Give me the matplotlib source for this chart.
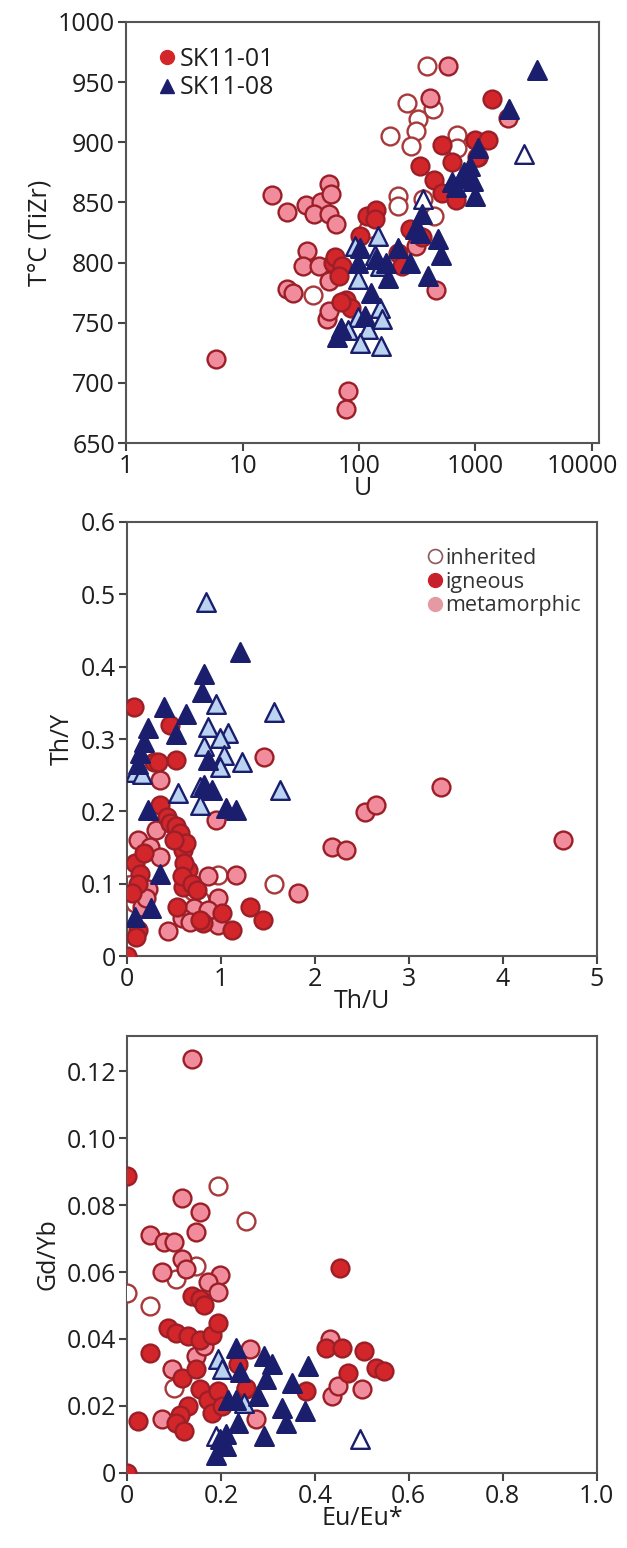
import matplotlib
matplotlib.use("Agg")
import matplotlib.pyplot as plt
from matplotlib.lines import Line2D
from matplotlib.transforms import ScaledTranslation
import numpy as np

plt.rcParams['font.family'] = ['Open Sans', 'DejaVu Sans']

# ---------------- Panel 1: U vs T (TiZr) ----------------
p1_sk01_met_U = [5.9, 18, 24, 35, 47, 55, 57, 41, 55, 63, 36, 33, 45, 24, 27, 55, 53, 55, 81, 78,
                 459, 1900, 1050, 408, 582, 310]
p1_sk01_met_T = [720, 856, 842, 848, 850, 865, 857, 840, 840, 832, 810, 797, 797, 778, 775, 785, 753, 760, 693, 678,
                 777, 920, 888, 937, 963, 814]
p1_sk01_ign_U = [1380, 520, 336, 630, 1000, 1270, 1040, 440, 520, 680, 103, 116, 141, 137, 60, 62, 72, 67, 78, 85,
                 70, 218, 275, 350, 235]
p1_sk01_ign_T = [936, 898, 880, 884, 902, 902, 888, 869, 858, 852, 822, 839, 844, 836, 800, 805, 797, 789, 769, 762,
                 767, 808, 828, 821, 797]
p1_sk01_inh_U = [384, 259, 430, 323, 310, 185, 281, 690, 217, 217, 355, 440, 40, 120, 700]
p1_sk01_inh_T = [963, 933, 928, 919, 909, 905, 897, 906, 855, 847, 853, 839, 773, 828, 895]
p1_sk08_ign_U = [3400, 1935, 1050, 800, 900, 750, 1000, 680, 350, 335, 480, 510, 395, 274, 300, 218, 172, 178, 141, 99,
                 103, 126, 112, 70, 65, 630, 950]
p1_sk08_ign_T = [960, 928, 895, 875, 880, 870, 855, 863, 840, 825, 820, 806, 789, 800, 828, 812, 800, 787, 803, 800,
                 812, 775, 756, 746, 738, 867, 868]
p1_sk08_met_U = [147, 92, 136, 150, 99, 150, 158, 99, 120, 103, 153, 81]
p1_sk08_met_T = [822, 814, 806, 797, 786, 762, 753, 755, 745, 733, 731, 744]
p1_sk08_inh_U = [2590, 355]
p1_sk08_inh_T = [890, 853]

# ---------------- Panel 2: Th/U vs Th/Y ----------------
p2_sk01_ign_x = [0.07, 0.46, 0.52, 0.29, 0.33, 0.35, 0.43, 0.46, 0.52, 0.565, 0.6, 0.63, 0.65, 0.6, 0.61, 0.58, 0.69,
                 0.74, 0.53, 0.81, 1.01, 1.12, 1.31, 1.45, 0.12, 0.09, 0.14, 0.18, 0.12, 0.05, 0.0, 0.78, 0.1, 0.5]
p2_sk01_ign_y = [0.344, 0.319, 0.271, 0.268, 0.268, 0.209, 0.192, 0.184, 0.18, 0.17, 0.147, 0.156, 0.119, 0.095, 0.128,
                 0.11, 0.1, 0.091, 0.068, 0.046, 0.059, 0.036, 0.068, 0.05, 0.036, 0.128, 0.114, 0.142, 0.1, 0.087,
                 0.0, 0.05, 0.026, 0.16]
p2_sk01_met_x = [1.46, 0.95, 3.34, 2.53, 2.65, 2.18, 2.33, 4.64, 1.82, 1.16, 0.86, 0.97, 0.71, 0.58, 0.97, 0.44, 0.12,
                 0.31, 0.35, 0.24, 0.35, 0.22, 0.16, 0.86, 0.67, 0.2]
p2_sk01_met_y = [0.275, 0.188, 0.234, 0.199, 0.209, 0.151, 0.146, 0.16, 0.087, 0.112, 0.11, 0.08, 0.066, 0.052, 0.043,
                 0.034, 0.16, 0.174, 0.243, 0.151, 0.137, 0.093, 0.068, 0.063, 0.047, 0.08]
p2_sk01_inh_x = [1.57, 0.97, 0.01, 0.78, 0.09, 0.7]
p2_sk01_inh_y = [0.1, 0.112, 0.123, 0.077, 0.073, 0.09]
p2_sk08_ign_x = [1.2, 0.82, 0.8, 0.39, 0.63, 0.22, 0.18, 0.52, 0.12, 0.14, 0.86, 0.82, 0.9, 0.22, 1.05, 1.16, 0.35,
                 0.26, 0.09]
p2_sk08_ign_y = [0.42, 0.39, 0.365, 0.344, 0.335, 0.315, 0.296, 0.307, 0.266, 0.28, 0.271, 0.236, 0.229, 0.202, 0.204,
                 0.202, 0.114, 0.066, 0.054]
p2_sk08_met_x = [0.84, 0.95, 1.57, 0.86, 1.07, 0.99, 0.82, 1.03, 1.22, 0.99, 1.63, 0.54, 0.78, 0.78, 0.09, 0.16]
p2_sk08_met_y = [0.489, 0.349, 0.337, 0.317, 0.308, 0.301, 0.291, 0.278, 0.268, 0.262, 0.229, 0.225, 0.234, 0.209,
                 0.255, 0.252]

# ---------------- Panel 3: Eu/Eu* vs Gd/Yb ----------------
p3_sk01_met_x = [0.138, 0.117, 0.155, 0.147, 0.049, 0.079, 0.1, 0.074, 0.117, 0.125, 0.198, 0.172, 0.194, 0.262,
                 0.253, 0.275, 0.074, 0.096, 0.147, 0.437, 0.45, 0.433, 0.501, 0.164]
p3_sk01_met_y = [0.1235, 0.082, 0.078, 0.072, 0.071, 0.069, 0.069, 0.06, 0.064, 0.061, 0.059, 0.057, 0.054, 0.037,
                 0.025, 0.016, 0.016, 0.031, 0.035, 0.023, 0.026, 0.04, 0.025, 0.038]
p3_sk01_ign_x = [0.0, 0.454, 0.0, 0.023, 0.049, 0.087, 0.104, 0.13, 0.155, 0.181, 0.194, 0.138, 0.155, 0.164, 0.117,
                 0.147, 0.236, 0.253, 0.155, 0.172, 0.13, 0.113, 0.104, 0.121, 0.181, 0.194, 0.202, 0.424, 0.458,
                 0.505, 0.471, 0.531, 0.548, 0.381]
p3_sk01_ign_y = [0.0886, 0.0612, 0.0, 0.0154, 0.0358, 0.0433, 0.0418, 0.0408, 0.0398, 0.0413, 0.0448, 0.0528, 0.0518,
                 0.05, 0.0284, 0.031, 0.0324, 0.0254, 0.025, 0.0219, 0.0199, 0.0174, 0.0149, 0.0124, 0.0179, 0.0244,
                 0.02, 0.0373, 0.0373, 0.0363, 0.0299, 0.0314, 0.0304, 0.0244]
p3_sk01_inh_x = [0.0, 0.049, 0.194, 0.253, 0.147, 0.104, 0.1]
p3_sk01_inh_y = [0.0538, 0.0498, 0.0856, 0.0752, 0.0617, 0.0578, 0.0254]
p3_sk08_ign_x = [0.232, 0.309, 0.292, 0.386, 0.352, 0.296, 0.279, 0.232, 0.215, 0.33, 0.379, 0.338, 0.236, 0.292,
                 0.211, 0.211, 0.189, 0.198, 0.241]
p3_sk08_ign_y = [0.0373, 0.0324, 0.0349, 0.0319, 0.0269, 0.0279, 0.0229, 0.0219, 0.0219, 0.0194, 0.0184, 0.0149,
                 0.0149, 0.011, 0.0115, 0.008, 0.0055, 0.01, 0.03]
p3_sk08_met_x = [0.194, 0.202, 0.249]
p3_sk08_met_y = [0.0339, 0.0309, 0.0209]
p3_sk08_inh_x = [0.497, 0.189]
p3_sk08_inh_y = [0.01, 0.011]

# ---------------- styles ----------------
RED = '#d3262b'
RED_EDGE = '#9c1f27'
PINK = '#f08c9c'
INH_EDGE = '#a8383a'
NAVY = '#1b1e6c'
LBLUE = '#b9d3f0'

CS = 165   # circle marker area
TS = 180   # triangle marker area
LW = 1.7

fig = plt.figure(figsize=(6.27, 15.48), dpi=100)
ax1 = fig.add_axes([0.2010, 0.7138, 0.7544, 0.2720])
ax2 = fig.add_axes([0.2026, 0.3824, 0.749, 0.2804])
ax3 = fig.add_axes([0.2026, 0.0485, 0.749, 0.2823])


def draw(ax, inh, met, ign, tinh, tmet, tign):
    ax.scatter(*inh, s=CS, marker='o', facecolor='white', edgecolor=INH_EDGE, linewidth=LW, zorder=3)
    ax.scatter(*met, s=CS, marker='o', facecolor=PINK, edgecolor=RED_EDGE, linewidth=LW, zorder=3)
    ax.scatter(*ign, s=CS, marker='o', facecolor=RED, edgecolor=RED_EDGE, linewidth=LW, zorder=3)
    if tinh is not None:
        ax.scatter(*tinh, s=TS, marker='^', facecolor='white', edgecolor=NAVY, linewidth=LW, zorder=4)
    ax.scatter(*tmet, s=TS, marker='^', facecolor=LBLUE, edgecolor=NAVY, linewidth=LW, zorder=4)
    ax.scatter(*tign, s=TS, marker='^', facecolor=NAVY, edgecolor=NAVY, linewidth=LW, zorder=4)


draw(ax1, (p1_sk01_inh_U, p1_sk01_inh_T), (p1_sk01_met_U, p1_sk01_met_T), (p1_sk01_ign_U, p1_sk01_ign_T),
     (p1_sk08_inh_U, p1_sk08_inh_T), (p1_sk08_met_U, p1_sk08_met_T), (p1_sk08_ign_U, p1_sk08_ign_T))
draw(ax2, (p2_sk01_inh_x, p2_sk01_inh_y), (p2_sk01_met_x, p2_sk01_met_y), (p2_sk01_ign_x, p2_sk01_ign_y),
     None, (p2_sk08_met_x, p2_sk08_met_y), (p2_sk08_ign_x, p2_sk08_ign_y))
draw(ax3, (p3_sk01_inh_x, p3_sk01_inh_y), (p3_sk01_met_x, p3_sk01_met_y), (p3_sk01_ign_x, p3_sk01_ign_y),
     (p3_sk08_inh_x, p3_sk08_inh_y), (p3_sk08_met_x, p3_sk08_met_y), (p3_sk08_ign_x, p3_sk08_ign_y))

FS = 18.0
TXT = '#1e1e1e'
for ax in (ax1, ax2, ax3):
    for sp in ax.spines.values():
        sp.set_color('#555555')
        sp.set_linewidth(1.5)
    ax.tick_params(direction='out', length=6, width=1.5, color='#444444', labelsize=FS,
                   labelcolor=TXT, top=False, right=False, pad=2)

# Panel 1 axes
ax1.set_xscale('log')
ax1.set_xlim(1, 11500)
ax1.set_ylim(650, 1000)
ax1.set_xticks([1, 10, 100, 1000, 10000])
ax1.set_xticklabels(['1', '10', '100', '1000', '10000'])
ax1.minorticks_off()
ax1.set_yticks([650, 700, 750, 800, 850, 900, 950, 1000])
ax1.set_xlabel('U', fontsize=FS, labelpad=-2, color=TXT)
ax1.set_ylabel('T°C (TiZr)', fontsize=FS, labelpad=4, color=TXT)
last = ax1.get_xticklabels()[-1]
last.set_transform(last.get_transform() + ScaledTranslation(-7 / 72, 0, fig.dpi_scale_trans))

# Panel 2 axes
ax2.set_xlim(0, 5)
ax2.set_ylim(0, 0.6)
ax2.set_xticks([0, 1, 2, 3, 4, 5])
ax2.set_xticklabels(['0', '1', '2', '3', '4', '5'])
ax2.set_yticks([0, 0.1, 0.2, 0.3, 0.4, 0.5, 0.6])
ax2.set_yticklabels(['0', '0.1', '0.2', '0.3', '0.4', '0.5', '0.6'])
ax2.set_xlabel('Th/U', fontsize=FS, labelpad=-2, color=TXT)
ax2.set_ylabel('Th/Y', fontsize=FS, labelpad=4, color=TXT)

# Panel 3 axes
ax3.set_xlim(0, 1.0)
ax3.set_ylim(0, 0.1305)
ax3.set_xticks([0, 0.2, 0.4, 0.6, 0.8, 1.0])
ax3.set_xticklabels(['0', '0.2', '0.4', '0.6', '0.8', '1.0'])
ax3.set_yticks([0, 0.02, 0.04, 0.06, 0.08, 0.10, 0.12])
ax3.set_yticklabels(['0', '0.02', '0.04', '0.06', '0.08', '0.10', '0.12'])
ax3.set_xlabel('Eu/Eu*', fontsize=FS, labelpad=-2, color=TXT)
ax3.set_ylabel('Gd/Yb', fontsize=FS, labelpad=4, color=TXT)

# Legends
h1 = [Line2D([], [], ls='none', marker='o', ms=10, mfc=RED, mec=RED),
      Line2D([], [], ls='none', marker='^', ms=10, mfc=NAVY, mec=NAVY)]
ax1.legend(h1, ['SK11-01', 'SK11-08'], loc='upper left', frameon=False, fontsize=FS,
           handletextpad=0.0, handlelength=1.0, labelspacing=0.15, borderaxespad=0.0,
           bbox_to_anchor=(0.04, 0.965), labelcolor=TXT)

h2 = [Line2D([], [], ls='none', marker='o', ms=10, mfc='white', mec='#8a5a5e', mew=1.2),
      Line2D([], [], ls='none', marker='o', ms=10, mfc='#c8202a', mec='#c8202a'),
      Line2D([], [], ls='none', marker='o', ms=10, mfc='#e59aa2', mec='#e59aa2')]
ax2.legend(h2, ['inherited', 'igneous', 'metamorphic'], loc='upper right', frameon=False, fontsize=15.5,
           handletextpad=0.0, handlelength=1.0, labelspacing=0.12, borderaxespad=0.0,
           bbox_to_anchor=(0.985, 0.96), labelcolor='#333333')

fig.savefig('out.png', dpi=100)
